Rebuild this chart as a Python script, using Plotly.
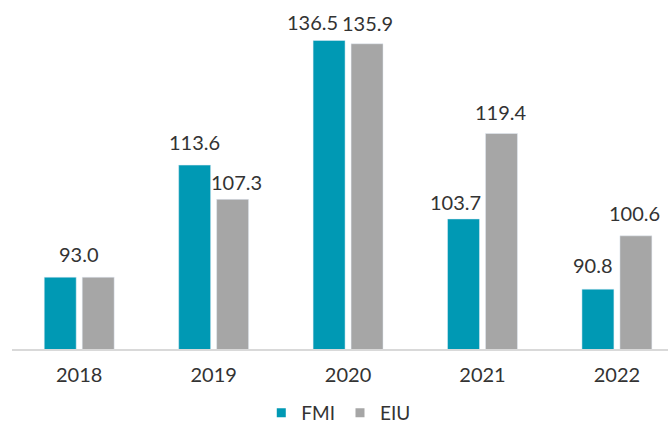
import plotly.graph_objects as go

years = ["2018", "2019", "2020", "2021", "2022"]
fmi = [93.0, 113.6, 136.5, 103.7, 90.8]
eiu = [93.0, 107.3, 135.9, 119.4, 100.6]

# label placement tweaks (pixels): horizontal shift and gap above bar
fmi_dx = [19, 0, -17, -8, -5]
fmi_gap = [14, 14, 9, 8, 15]
eiu_dx = [None, 4, 0, 0, -1]   # None: label shared with FMI (equal values)
eiu_gap = [None, 8, 12, 13, 14]

font_family = "Lato, Open Sans, sans-serif"
txt_color = "#333333"
c_fmi = "#0099B4"
c_eiu = "#A6A6A6"
bar_off = 19  # half-slot in px

fig = go.Figure()
fig.add_trace(go.Bar(name="FMI", x=years, y=fmi, marker_color=c_fmi, showlegend=False))
fig.add_trace(go.Bar(name="EIU", x=years, y=eiu, marker_color=c_eiu, showlegend=False))
# legend entries with small square symbols
fig.add_trace(go.Scatter(name="FMI", x=[None], y=[None], mode="markers",
                         marker=dict(symbol="square", size=9, color=c_fmi)))
fig.add_trace(go.Scatter(name="EIU", x=[None], y=[None], mode="markers",
                         marker=dict(symbol="square", size=9, color=c_eiu)))

desc = 5
anns = []
for i, yr in enumerate(years):
    anns.append(dict(x=i, y=fmi[i], text=f"{fmi[i]:.1f}", showarrow=False,
                     xanchor="center", yanchor="bottom",
                     xshift=-bar_off + fmi_dx[i], yshift=fmi_gap[i] - desc))
    if eiu_dx[i] is not None:
        anns.append(dict(x=i, y=eiu[i], text=f"{eiu[i]:.1f}", showarrow=False,
                         xanchor="center", yanchor="bottom",
                         xshift=bar_off + eiu_dx[i], yshift=eiu_gap[i] - desc))

fig.update_layout(
    width=672, height=440,
    margin=dict(l=12, r=4, t=10, b=91),
    barmode="group", bargap=0.435, bargroupgap=0.158,
    plot_bgcolor="white", paper_bgcolor="white",
    font=dict(family=font_family, size=20, color=txt_color),
    annotations=anns,
    showlegend=True,
    legend=dict(orientation="h", x=0.38, xanchor="left", y=-0.1888, yanchor="middle",
                font=dict(size=19, color=txt_color), itemwidth=30,
                traceorder="normal"),
)
fig.update_annotations(font=dict(size=20, color=txt_color, family=font_family))
fig.update_xaxes(type="category", range=[-0.5, 4.38], showline=True, linecolor="#D9D9D9",
                 linewidth=2, ticks="", tickfont=dict(size=20, color=txt_color),
                 ticklabelstandoff=7, automargin=False, fixedrange=True)
fig.update_yaxes(range=[79.8, 142.1], visible=False, showgrid=False, zeroline=False,
                 automargin=False, fixedrange=True)

fig.write_html(
    "out.html",
    config={"displayModeBar": False},
    post_script="document.body.style.margin='0';document.body.style.overflow='hidden';"
                "document.documentElement.style.overflow='hidden';",
)
